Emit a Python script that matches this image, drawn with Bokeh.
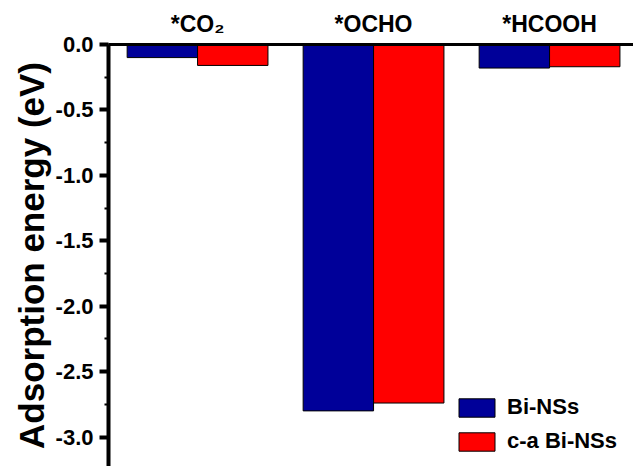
import numpy as np
from bokeh.plotting import figure
from bokeh.models import (Range1d, LinearAxis, FixedTicker, SingleIntervalTicker,
                          Legend, LegendItem, ColumnDataSource)
from bokeh.transform import dodge
from bokeh.embed import file_html
from bokeh.resources import INLINE

# ---- data ----
categories = ["*CO\u2082", "*OCHO", "*HCOOH"]
bi_nss = [-0.10, -2.80, -0.18]
ca_bi_nss = [-0.16, -2.74, -0.17]
series_names = ["Bi-NSs", "c-a Bi-NSs"]
y_ticks = [0.0, -0.5, -1.0, -1.5, -2.0, -2.5, -3.0]

FONT = "Liberation Sans"
BLUE = "#000099"
RED = "#FF0000"

idx = np.arange(len(categories))
src = ColumnDataSource(dict(x=idx, b=bi_nss, r=ca_bi_nss))

p = figure(width=633, height=466, output_backend="svg", toolbar_location=None,
           x_range=Range1d(-0.506, 2.477), y_range=Range1d(-3.225, 0.0),
           x_axis_location=None, y_axis_location=None,
           min_border_left=108, min_border_right=0, min_border_top=44, min_border_bottom=0)
p.outline_line_color = None
p.xgrid.visible = False
p.ygrid.visible = False
p.background_fill_color = "white"
p.border_fill_color = "white"

rb = p.vbar(x=dodge("x", -0.2), top=0, bottom="b", width=0.4, source=src,
            fill_color=BLUE, line_color="black", line_width=1)
rr = p.vbar(x=dodge("x", 0.2), top=0, bottom="r", width=0.4, source=src,
            fill_color=RED, line_color="black", line_width=1)

# left axis
yax = LinearAxis(ticker=SingleIntervalTicker(interval=0.5, num_minor_ticks=2))
yax.axis_label = "Adsorption energy (eV)"
yax.axis_label_text_font = FONT
yax.axis_label_text_font_style = "bold"
yax.axis_label_text_font_size = "35px"
yax.axis_label_text_color = "black"
yax.axis_label_standoff = 2
yax.major_label_text_font = FONT
yax.major_label_text_font_style = "bold"
yax.major_label_text_font_size = "22px"
yax.major_label_text_color = "black"
yax.major_label_standoff = 6
yax.axis_line_width = 4
yax.major_tick_line_width = 4
yax.major_tick_out = 9
yax.major_tick_in = 0
yax.minor_tick_line_width = 2
yax.minor_tick_out = 4
yax.minor_tick_in = 0
yax.major_label_overrides = {v: f"{v:.1f}" for v in y_ticks}
p.add_layout(yax, "left")

# top axis with category labels
xax = LinearAxis(ticker=FixedTicker(ticks=list(idx)))
xax.major_label_overrides = {int(i): c for i, c in zip(idx, categories)}
xax.major_label_text_font = FONT
xax.major_label_text_font_style = "bold"
xax.major_label_text_font_size = "23px"
xax.major_label_text_color = "black"
xax.major_label_standoff = 8
xax.axis_line_width = 3
xax.major_tick_out = 0
xax.major_tick_in = 0
xax.minor_tick_out = 0
xax.minor_tick_in = 0
p.add_layout(xax, "above")

legend = Legend(items=[LegendItem(label=series_names[0], renderers=[rb]),
                       LegendItem(label=series_names[1], renderers=[rr])],
                location=(346, 12), orientation="vertical")
legend.glyph_width = 45
legend.glyph_height = 23
legend.label_height = 23
legend.label_standoff = 8
legend.spacing = 8
legend.padding = 0
legend.margin = 0
legend.border_line_color = None
legend.background_fill_alpha = 0
legend.label_text_font = FONT
legend.label_text_font_style = "bold"
legend.label_text_font_size = "22px"
legend.label_text_color = "black"
p.add_layout(legend, "center")

open("out.html", "w").write(file_html(p, INLINE))
